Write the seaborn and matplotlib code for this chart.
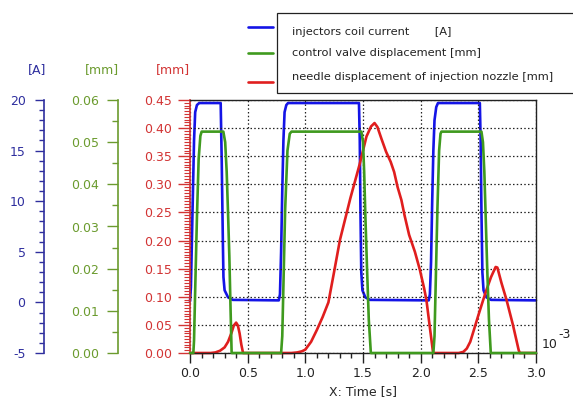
import matplotlib.pyplot as plt
import seaborn as sns
from matplotlib import ticker
from matplotlib.lines import Line2D
from matplotlib.patches import Rectangle

# Data (time in s, values in axis units)
blue_t = [0.0, 0.008, 0.02, 0.035, 0.045, 0.06, 0.08, 0.266, 0.275, 0.285, 0.29, 0.30,
          0.33, 0.37, 0.77, 0.78, 0.79, 0.80, 0.81, 0.82, 0.835, 0.85, 1.465, 1.472,
          1.478, 1.485, 1.495, 1.52, 1.56, 2.07, 2.08, 2.09, 2.10, 2.11, 2.12, 2.135,
          2.15, 2.513, 2.52, 2.527, 2.535, 2.545, 2.57, 2.61, 3.0]
blue_a = [0.1, 1.5, 8.0, 16.0, 18.8, 19.5, 19.7, 19.7, 14.0, 6.0, 2.5, 1.2,
          0.5, 0.25, 0.2, 0.8, 5.0, 11.0, 16.0, 18.8, 19.5, 19.7, 19.7, 16.0,
          9.0, 3.0, 1.2, 0.5, 0.25, 0.2, 0.8, 4.0, 10.0, 15.0, 18.0, 19.3,
          19.7, 19.7, 16.0, 9.0, 3.0, 1.2, 0.5, 0.25, 0.2]

green_t = [0.0, 0.029, 0.035, 0.045, 0.06, 0.075, 0.09, 0.101, 0.289, 0.305, 0.318, 0.33,
           0.341, 0.352, 0.361, 0.79, 0.80, 0.81, 0.825, 0.845, 0.865, 0.88, 1.486, 1.50,
           1.51, 1.52, 1.535, 1.55, 1.568, 2.11, 2.12, 2.13, 2.145, 2.16, 2.172, 2.18,
           2.527, 2.54, 2.552, 2.563, 2.577, 2.592, 2.608, 3.0]
green_mm = [0.0, 0.0, 0.003, 0.015, 0.032, 0.046, 0.0515, 0.0525, 0.0525, 0.050, 0.043, 0.033,
            0.023, 0.010, 0.0, 0.0, 0.004, 0.016, 0.034, 0.048, 0.052, 0.0525, 0.0525, 0.050,
            0.043, 0.033, 0.020, 0.008, 0.0, 0.0, 0.004, 0.016, 0.034, 0.048, 0.052, 0.0525,
            0.0525, 0.050, 0.043, 0.033, 0.020, 0.008, 0.0, 0.0]

red_t = [0.0, 0.18, 0.22, 0.26, 0.30, 0.33, 0.36, 0.38, 0.40, 0.415, 0.43, 0.445, 0.46,
         0.88, 0.93, 0.97, 1.0, 1.05, 1.10, 1.15, 1.20, 1.25, 1.30, 1.35, 1.39, 1.43,
         1.47, 1.53, 1.57, 1.60, 1.625, 1.66, 1.70, 1.74, 1.77, 1.80, 1.833, 1.86, 1.90,
         1.95, 1.993, 2.03, 2.05, 2.08, 2.108, 2.33, 2.37, 2.40, 2.43, 2.46, 2.50, 2.54,
         2.57, 2.61, 2.65, 2.665, 2.70, 2.745, 2.80, 2.85, 2.86, 3.0]
red_mm = [0.0, 0.0, 0.001, 0.004, 0.010, 0.020, 0.036, 0.049, 0.054, 0.049, 0.035, 0.015, 0.0,
          0.0, 0.001, 0.003, 0.006, 0.020, 0.041, 0.064, 0.090, 0.145, 0.201, 0.242, 0.275, 0.305,
          0.335, 0.385, 0.403, 0.409, 0.402, 0.381, 0.358, 0.340, 0.322, 0.295, 0.272, 0.245, 0.21,
          0.18, 0.148, 0.115, 0.094, 0.045, 0.0, 0.0, 0.002, 0.008, 0.020, 0.040, 0.067, 0.093,
          0.112, 0.135, 0.153, 0.152, 0.125, 0.094, 0.050, 0.005, 0.0, 0.0]

legend_labels = ["injectors coil current       [A]",
                 "control valve displacement [mm]",
                 "needle displacement of injection nozzle [mm]"]

red_ticks = [0.00, 0.05, 0.10, 0.15, 0.20, 0.25, 0.30, 0.35, 0.40, 0.45]
green_ticks = [0.00, 0.01, 0.02, 0.03, 0.04, 0.05, 0.06]
blue_ticks = [-5, 0, 5, 10, 15, 20]
x_ticks = [0.0, 0.5, 1.0, 1.5, 2.0, 2.5, 3.0]

# Colors
c_blue = "#1414e6"
c_green = "#3f9a1e"
c_red = "#e01e1e"
ax_blue = "#2e2e9e"
ax_green = "#6b9b2e"
ax_red = "#d23434"

sns.set_style("ticks")
plt.rcParams["font.family"] = ["DejaVu Sans"]
plt.rcParams["font.size"] = 8.5

W, H = 573, 403
fig = plt.figure(figsize=(W / 100, H / 100), dpi=100)
fig.patch.set_facecolor("white")

ax = fig.add_axes([190 / W, 1 - 353 / H, 346 / W, 253 / H])
ax_g = ax.twinx()
ax_b = ax.twinx()

# Stack: blue below red, green on top
ax_b.set_zorder(1)
ax.set_zorder(2)
ax_g.set_zorder(3)
for a in (ax, ax_g, ax_b):
    a.patch.set_visible(False)

lw = 1.9
sns.lineplot(x=blue_t, y=blue_a, ax=ax_b, color=c_blue, linewidth=lw, estimator=None, clip_on=False)
sns.lineplot(x=red_t, y=red_mm, ax=ax, color=c_red, linewidth=lw, estimator=None, clip_on=False)
sns.lineplot(x=green_t, y=green_mm, ax=ax_g, color=c_green, linewidth=lw, estimator=None, clip_on=False)

# Main (red) axis
ax.set_xlim(0, 3.0)
ax.set_ylim(0, 0.45)
ax.set_xticks(x_ticks)
ax.xaxis.set_major_formatter(ticker.FormatStrFormatter("%.1f"))
ax.xaxis.set_minor_locator(ticker.MultipleLocator(0.1))
ax.set_yticks(red_ticks)
ax.yaxis.set_major_formatter(ticker.FormatStrFormatter("%.2f"))
ax.yaxis.set_minor_locator(ticker.MultipleLocator(0.005))
ax.tick_params(axis="x", which="major", direction="out", length=7, width=1,
               pad=3, labelsize=9, colors="#222222")
ax.tick_params(axis="x", which="minor", direction="out", length=3.5, width=1, colors="#222222")
ax.tick_params(axis="y", which="major", direction="out", length=9, width=1,
               pad=4, labelsize=9, colors=ax_red)
ax.tick_params(axis="y", which="minor", direction="out", length=4.5, width=0.8, colors=ax_red)
ax.grid(True, which="major", color="#222222", linestyle=(0, (1.2, 1.8)), linewidth=0.9)
for s in ("top", "right", "bottom"):
    ax.spines[s].set_visible(True)
    ax.spines[s].set_color("#222222")
    ax.spines[s].set_linewidth(1)
ax.spines["left"].set_color(ax_red)
ax.spines["left"].set_linewidth(1.2)
ax.set_xlabel("X: Time [s]", fontsize=9, labelpad=4)
ax.set_ylabel("")

# Extra left axes
for a, pos, lim, ticks, fmt, minor, col, tl, pad in (
    (ax_g, -71.7 / 346, (0, 0.06), green_ticks, "%.2f", 0.005, ax_green, 8, 6),
    (ax_b, -145.7 / 346, (-5, 20), blue_ticks, "%d", 1, ax_blue, 6.5, 7),
):
    a.set_ylim(*lim)
    a.yaxis.tick_left()
    a.yaxis.set_label_position("left")
    a.spines["left"].set_visible(True)
    a.spines["left"].set_position(("axes", pos))
    a.spines["left"].set_color(col)
    a.spines["left"].set_linewidth(1.2)
    for s in ("right", "top", "bottom"):
        a.spines[s].set_visible(False)
    a.set_yticks(ticks)
    a.yaxis.set_major_formatter(ticker.FormatStrFormatter(fmt))
    a.yaxis.set_minor_locator(ticker.MultipleLocator(minor))
    a.tick_params(axis="y", which="major", direction="out", length=tl, width=1,
                  pad=pad, labelsize=9, colors=col)
    a.tick_params(axis="y", which="minor", direction="out", length=tl / 2, width=1, colors=col)
    a.set_ylabel("")
    a.grid(False)

# Unit labels above the axes
fig.text(37.5 / W, 1 - 70 / H, "[A]", color=ax_blue, fontsize=9, ha="center", va="center")
fig.text(101.7 / W, 1 - 70 / H, "[mm]", color=ax_green, fontsize=9, ha="center", va="center")
fig.text(172.5 / W, 1 - 70 / H, "[mm]", color=ax_red, fontsize=9, ha="center", va="center")

# Scale note
fig.text(550 / W, 1 - 345 / H, "10", fontsize=9, ha="center", va="center", color="#222222")
fig.text(565 / W, 1 - 334 / H, "-3", fontsize=9, ha="center", va="center", color="#222222")

# Legend: box with text, line samples outside on the left
fig.add_artist(Rectangle((277 / W, 1 - 93.3 / H), 310 / W, 80 / H, transform=fig.transFigure,
                         facecolor="white", edgecolor="#222222", linewidth=0.9))
for lab, col, ly, ty in zip(legend_labels, (c_blue, c_green, c_red),
                            (26.7, 53.3, 81.7), (31.7, 53.3, 76.7)):
    fig.add_artist(Line2D([248 / W, 273 / W], [1 - ly / H, 1 - ly / H], color=col,
                          linewidth=lw, transform=fig.transFigure))
    fig.text(291.7 / W, 1 - ty / H, lab, fontsize=8.2, ha="left", va="center", color="#222222")

fig.savefig("out.png", dpi=100, facecolor="white")
